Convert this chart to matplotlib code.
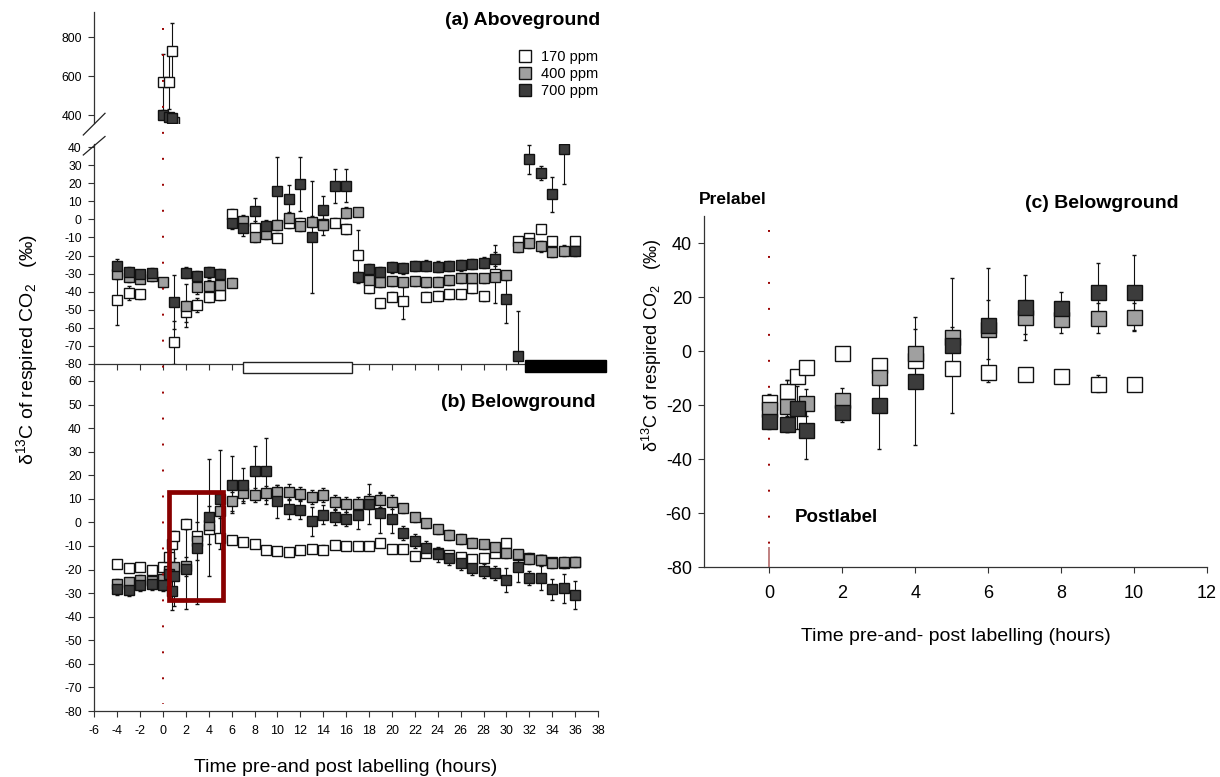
import numpy as np
import matplotlib.pyplot as plt
from matplotlib.lines import Line2D
from matplotlib.patches import Rectangle

plt.rcParams['font.family'] = ['Liberation Sans', 'DejaVu Sans']
plt.rcParams['mathtext.fontset'] = 'custom'
plt.rcParams['mathtext.rm'] = 'Liberation Sans'
plt.rcParams['mathtext.it'] = 'Liberation Sans:italic'
plt.rcParams['mathtext.bf'] = 'Liberation Sans:bold'
plt.rcParams['lines.scale_dashes'] = False
plt.rcParams['axes.unicode_minus'] = False

nan = np.nan

# ---------------- data ----------------
# time (h) relative to labelling, panels (a) and (b)
t_ab = [-4, -3, -2, -1, 0, 0.5, 0.75, 1, 2, 3, 4, 5, 6, 7, 8, 9, 10, 11, 12, 13, 14, 15,
        16, 17, 18, 19, 20, 21, 22, 23, 24, 25, 26, 27, 28, 29, 30, 31, 32, 33, 34, 35, 36]

# (a) aboveground
a_170 = [-44.4, -40.7, -41.4, nan, 571, 571, 729, -68, -51, -47.4, -43.1, -41.9, 2.9, nan,
         -5.0, nan, -10.2, -2, -2, nan, -2.6, -1.9, -5.3, -19.7, -38.2, -46.5, -42.8, -45.2,
         nan, -42.8, -42.2, -41.3, -41.3, -38.2, -42.4, -30, nan, -11.8, -10.5, -5.5, -12,
         nan, -11.8]
a_400 = [-30.4, -32, -32.8, -31.5, -34.8, nan, nan, 366, -47.8, -37.3, -36.7, -36.5, -35,
         -0.7, -9.6, -8.1, -3.1, 0.9, -3.7, -1.3, -3, nan, 3.7, 4.2, -33.6, -34.9, -34.1,
         -34.9, -34.1, -34.9, -34.5, -33.6, -32.6, -32.6, -32.6, -31.7, -30.8, -15.1, -12.9,
         -14.8, -17.9, -17.3, nan]
a_700 = [-25.8, -29.1, -30.4, -29.5, 400, 391, 383, -45.5, -29.5, -31.3, -29.3, -30.4, -2.2,
         -5.0, 4.6, -3.5, 15.7, 11.2, 19.7, -9.6, 5.2, 18.6, 18.6, -32.1, -27.7, -29.3, -26.6,
         -27.1, -25.8, -25.6, -26.2, -25.8, -25.3, -24.7, -24, -22, -44.3, -75.6, 33.2, 25.8,
         13.8, 38.7, -17.3]
a_170_se = [14.2, 4, 2.5, 0, 143, 140, 146, 12, 6, 4, 2.5, 2.5, 3, 0, 4, 0, 2.5, 3, 3, 0, 6,
            2.5, 3, 14, 2.5, 2.5, 2.5, 10, 0, 2.5, 2.5, 2.5, 2.5, 2.5, 2.5, 16, 0, 2, 2, 2, 2,
            0, 2]
a_400_se = [2.5, 2.5, 2.5, 2.5, 2.5, 0, 0, 8, 12, 4, 3, 2.5, 2.5, 3, 3, 3, 3, 3, 3, 3, 3, 0,
            3, 2, 2.5, 2.5, 2.5, 2.5, 2.5, 2.5, 2.5, 2.5, 2.5, 2.5, 2.5, 2.5, 2.5, 3, 3, 3, 3,
            3, 0]
a_700_se = [4, 3, 2.5, 2.5, 10, 10, 10, 15, 3, 3, 3, 3, 3, 4, 7, 3, 19, 8, 15, 31, 8, 9.5,
            9, 3, 3, 3, 3, 3, 3, 3, 3, 3, 3, 3, 3, 4, 13, 25, 8, 4, 9.7, 19, 3]

# (b) belowground
b_170 = [-17.5, -19.3, -19.1, -20, -19, -14.7, -9.3, -5.8, -0.7, -5.9, -2.8, -6.6, -7.3,
         -8.5, -9.2, -11.6, -12, -12.7, -11.6, -11.2, -11.6, -9.6, -10, -10, -10, -8.6, -11.4,
         -11.4, -14.1, -12.9, -13, -14, -14.5, -15.7, -15.3, -13.1, -8.9, -14, -15, -16, -17,
         -17.4, -17]
b_400 = [-26, -25.4, -24.3, -25, -24, -20.4, nan, -19.1, -18.6, -8, -1, 4.7, 8.9, 12.4, 11.7,
         12.4, 12.7, 13.1, 12, 10.9, 11.6, 8.8, 7.6, 7.8, 8.9, 9.5, 8.8, 6, 2.1, -0.4, -2.9,
         -5.4, -7, -8.6, -9.3, -10.6, -12.9, -13.6, -15.7, -16, -17.4, -16.7, -16.7]
b_700 = [-28.2, -28.8, -26.4, -26, -26.7, -22, -29.2, -22.6, -19.6, -10.9, 2.1, 9.9, 16, 16,
         21.6, 21.6, 8.9, 5.6, 5.4, 0.4, 3.2, 2.1, 1.4, 3.1, 7.8, 4.1, 1.3, -4.6, -7.9, -10.7,
         -13.6, -15, -17.1, -19.2, -20.5, -21.6, -24.5, -19.1, -23.7, -23.7, -28.3, -28, -30.8]
b_170_se = [1.5, 1.5, 1.5, 1.5, 1.5, 2, 2, 2, 2, 2, 1.5, 1.5, 1.5, 1.5, 1.5, 1.5, 1.5, 1.5,
            1.5, 1.5, 2, 1.5, 1.5, 1.5, 1.5, 1.5, 1.5, 1.5, 1.5, 1.5, 1.5, 1.5, 1.5, 1.5, 1.5,
            1.5, 2, 2, 2, 2, 2, 2, 2]
b_400_se = [2, 2, 2, 2, 2, 5, 0, 4, 4, 8, 8, 3, 4, 4, 3, 3, 3, 3, 3, 3, 3, 3, 3, 3, 3, 3, 3,
            2, 2, 2, 2, 2, 2, 2, 2, 2, 2, 2, 2, 2, 2, 2, 2]
b_700_se = [2.5, 2.5, 2.5, 2.5, 2.5, 5, 8, 13, 17, 23.7, 25, 21, 12, 7, 11, 14, 7, 4, 4, 6,
            4, 3, 3, 6, 8.4, 8.7, 6, 3, 3, 3, 3, 3, 3, 3, 3, 3, 5, 6, 3, 5, 4.5, 6, 6]

# (c) belowground, first 10 h
t_c = [0, 0.5, 0.75, 1, 2, 3, 4, 5, 6, 7, 8, 9, 10]
c_170 = [-18.8, -14.7, -9.3, -5.8, -0.6, -5.2, -3.3, -6.4, -7.7, -8.5, -9.3, -12, -12]
c_400 = [-21.6, -20.4, nan, -19.1, -18.1, -9.5, -0.6, 5.1, 8, 12.7, 11.7, 12.3, 12.7]
c_700 = [-25.8, -26.9, -21, -29.3, -22.5, -20, -11.1, 2.2, 9.6, 16.2, 15.8, 21.7, 21.7]
c_170_se = [3, 4, 2, 2.2, 0.5, 2, 1.5, 2, 2, 2, 2, 3, 2]
c_400_se = [2, 9.6, 0, 5, 4.5, 3, 8.6, 4, 11, 6.3, 5, 5.5, 5.2]
c_700_se = [3, 3, 8, 10.8, 3.9, 16.4, 23.6, 25, 21, 12, 6, 11, 14]

light_period = (7.0, 16.55)
dark_period = (31.6, 38.7)
zoom_box = (0.55, 5.2, -32.9, 12.9)

WHITE, GRAY, DARK = 'white', '#a0a0a0', '#3c3c3c'
EDGE = '#111111'

W, H = 1220, 777
fig = plt.figure(figsize=(W / 100, H / 100), dpi=100)


def box(x0, y0, x1, y1):
    return [x0 / W, 1 - y1 / H, (x1 - x0) / W, (y1 - y0) / H]


def series(ax, t, v, e, face, ms):
    ax.errorbar(t, v, yerr=e, fmt='s', ms=ms, mfc=face, mec=EDGE, mew=1.0,
                ecolor=EDGE, elinewidth=0.8, capsize=1.2, capthick=0.8)


ax_top = fig.add_axes(box(94.3, 12, 598, 123))
ax_a = fig.add_axes(box(94.3, 144, 598, 364))
ax_b = fig.add_axes(box(94.3, 364, 598, 711))
ax_c = fig.add_axes(box(704.3, 216, 1207, 567.3))

for ax in (ax_top, ax_a, ax_b, ax_c):
    for s in ('top', 'right'):
        ax.spines[s].set_visible(False)
    for s in ('left', 'bottom'):
        ax.spines[s].set_color('#333333')
        ax.spines[s].set_linewidth(0.9)
    ax.set_facecolor('none')
    ax.tick_params(direction='out', length=4, width=0.8, color='#333333', labelsize=8.7, pad=5)

for ax in (ax_top, ax_a):
    for t, v, e, f in ((t_ab, a_170, a_170_se, WHITE), (t_ab, a_400, a_400_se, GRAY),
                       (t_ab, a_700, a_700_se, DARK)):
        series(ax, t, v, e, f, 7.8)
    ax.set_xlim(-6, 38)

ax_top.spines['bottom'].set_visible(False)
ax_top.set_ylim(359, 930)
ax_top.set_yticks([400, 600, 800])
ax_top.set_xticks([])

ax_a.set_ylim(-80, 41.7)
ax_a.set_yticks(np.arange(-80, 41, 10))
ax_a.set_xticks(np.arange(-6, 39, 2))
ax_a.tick_params(axis='x', labelbottom=False)

for t, v, e, f in ((t_ab, b_170, b_170_se, WHITE), (t_ab, b_400, b_400_se, GRAY),
                   (t_ab, b_700, b_700_se, DARK)):
    series(ax_b, t, v, e, f, 7.8)
ax_b.set_xlim(-6, 38)
ax_b.set_ylim(-80, 67.2)
ax_b.set_yticks(np.arange(-80, 61, 10))
ax_b.set_xticks(np.arange(-6, 39, 2))
ax_b.tick_params(axis='x', labelsize=9, pad=6)

# light / dark bars under panel (a)
ax_a.add_patch(Rectangle((light_period[0], -85.1), light_period[1] - light_period[0], 6.0,
                         fc='white', ec='#222222', lw=1.0, clip_on=False, zorder=5))
ax_a.add_patch(Rectangle((dark_period[0], -84.3), dark_period[1] - dark_period[0], 6.5,
                         fc='black', ec='black', lw=1.0, clip_on=False, zorder=5))

# red box in (b)
ax_b.add_patch(Rectangle((zoom_box[0], zoom_box[2]), zoom_box[1] - zoom_box[0],
                         zoom_box[3] - zoom_box[2], fill=False, ec='#880000', lw=3.4, zorder=6))

# labelling time line across the left column
x0 = fig.transFigure.inverted().transform(ax_b.transData.transform((0, 0)))[0]
fig.add_artist(Line2D([x0, x0], [1 - 28 / H, 1 - 704 / H], color='#990000', lw=1.4,
                      linestyle=(0, (1.4, 17.3))))

# axis break marks
for y_lo, y_hi in ((135, 113.3), (155, 136.5)):
    fig.add_artist(Line2D([83.3 / W, 105 / W], [1 - y_lo / H, 1 - y_hi / H],
                          color='#222222', lw=0.9))

# legend
handles = [Line2D([], [], ls='none', marker='s', ms=8, mfc=f, mec=EDGE, mew=1.0)
           for f in (WHITE, GRAY, DARK)]
fig.legend(handles, ['170 ppm', '400 ppm', '700 ppm'], loc='center left',
           bbox_to_anchor=(518 / W, 1 - 74 / H), frameon=False, fontsize=10.5,
           handlelength=1.0, handletextpad=0.6, labelspacing=0.2, borderpad=0,
           borderaxespad=0)

fig.text(600 / W, 1 - 20.7 / H, '(a) Aboveground', ha='right', va='center',
         fontsize=14, fontweight='bold')
fig.text(596 / W, 1 - 402.7 / H, '(b) Belowground', ha='right', va='center',
         fontsize=14, fontweight='bold')
fig.text(27 / W, 1 - 350 / H, r'δ$^{13}$C of respired CO$_2$   (‰)', rotation=90,
         ha='center', va='center', fontsize=14)
fig.text(346 / W, 1 - 768 / H, 'Time pre-and post labelling (hours)', ha='center',
         va='center', fontsize=14)

# ---------------- panel (c) ----------------
for t, v, e, f in ((t_c, c_170, c_170_se, WHITE), (t_c, c_400, c_400_se, GRAY),
                   (t_c, c_700, c_700_se, DARK)):
    series(ax_c, t, v, e, f, 10.8)
ax_c.set_xlim(-1.78, 12)
ax_c.set_ylim(-80, 50)
ax_c.set_xticks(np.arange(0, 13, 2))
ax_c.set_yticks(np.arange(-80, 41, 20))
ax_c.tick_params(labelsize=13)
ax_c.tick_params(axis='x', pad=9)
ax_c.plot([0, 0], [45, -71.5], color='#990000', lw=1.4, linestyle=(0, (1.4, 17.3)))
ax_c.plot([0, 0], [-73, -80], color='#c08080', lw=1.4)
ax_c.text(0.7, -61.6, 'Postlabel', ha='left', va='center', fontsize=13.5, fontweight='bold')

fig.text(733 / W, 1 - 199 / H, 'Prelabel', ha='center', va='center', fontsize=12.5,
         fontweight='bold')
fig.text(1102 / W, 1 - 204 / H, '(c) Belowground', ha='center', va='center', fontsize=14,
         fontweight='bold')
fig.text(652 / W, 1 - 345 / H, r'δ$^{13}$C of respired CO$_2$   (‰)', rotation=90,
         ha='center', va='center', fontsize=13)
fig.text(956 / W, 1 - 636.7 / H, 'Time pre-and- post labelling (hours)', ha='center',
         va='center', fontsize=14)

fig.savefig('out.png', dpi=100)
